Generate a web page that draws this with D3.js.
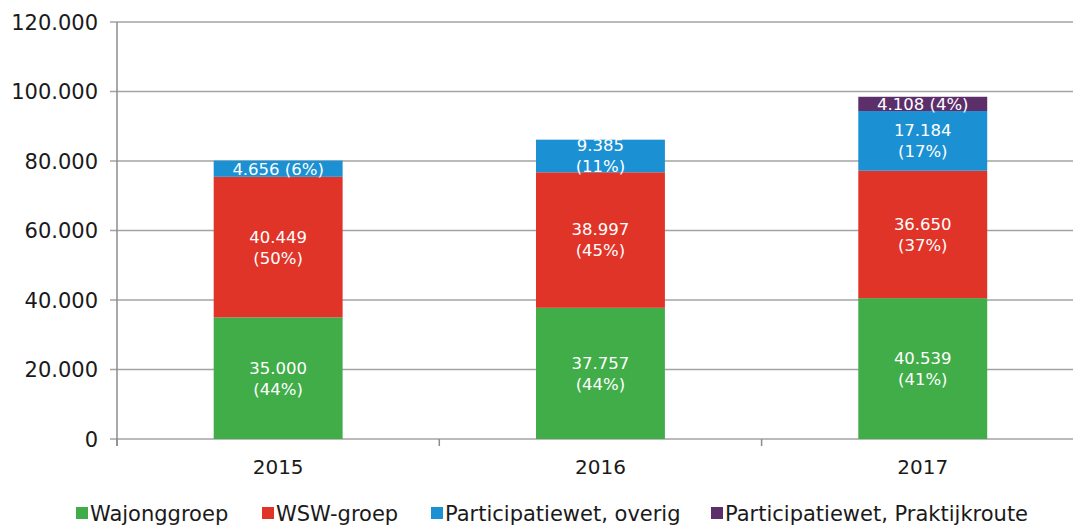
<!DOCTYPE html>
<html>
<head>
<meta charset="utf-8">
<script src="https://cdn.jsdelivr.net/npm/d3@7"></script>
<style>
  body { margin: 0; background: #fff; }
  text { font-family: "DejaVu Sans", Verdana, sans-serif; }
</style>
</head>
<body>
<div id="chart"></div>
<script>
var svgWidth = 1073;
var svgHeight = 528;

// Data
var years = ["2015", "2016", "2017"];
var seriesNames = ["Wajonggroep", "WSW-groep", "Participatiewet, overig", "Participatiewet, Praktijkroute"];
var wajong = [35000, 37757, 40539];
var wsw = [40449, 38997, 36650];
var pwOverig = [4656, 9385, 17184];
var pwPraktijk = [0, 0, 4108];
var yTicks = [0, 20000, 40000, 60000, 80000, 100000, 120000];

var colors = ["#41ad49", "#e13428", "#1b91d3", "#5c2f6b"];

var margin = { top: 22, left: 117, bottom: 89 };
var plotBottom = svgHeight - margin.bottom;

var svg = d3.select("#chart")
  .append("svg")
  .attr("width", svgWidth)
  .attr("height", svgHeight);

// Build rows for stacking
var rows = years.map(function(y, i) {
  return { year: y, s0: wajong[i], s1: wsw[i], s2: pwOverig[i], s3: pwPraktijk[i] };
});
var keys = ["s0", "s1", "s2", "s3"];
var stacked = d3.stack().keys(keys)(rows);

// Scales
var xScale = d3.scaleBand()
  .domain(years)
  .range([margin.left, margin.left + 3 * 322.3])
  .paddingInner(0.6)
  .paddingOuter(0.3);

var yScale = d3.scaleLinear()
  .domain([0, 120000])
  .range([plotBottom, margin.top]);

var fmt = function(v) {
  return d3.format(",")(v).replace(/,/g, ".");
};

// Gridlines
svg.append("g")
  .selectAll("line")
  .data(yTicks)
  .enter()
  .append("line")
  .attr("x1", margin.left - 7)
  .attr("x2", svgWidth)
  .attr("y1", function(d) { return yScale(d); })
  .attr("y2", function(d) { return yScale(d); })
  .attr("stroke", "#a3a3a3")
  .attr("stroke-width", 1.5);

// Y tick labels
svg.append("g")
  .selectAll("text")
  .data(yTicks)
  .enter()
  .append("text")
  .attr("x", margin.left - 19)
  .attr("y", function(d) { return yScale(d); })
  .attr("dy", "0.36em")
  .attr("text-anchor", "end")
  .attr("font-size", "21px")
  .attr("fill", "#1a1a1a")
  .text(function(d) { return fmt(d); });

// Bars
var layers = svg.append("g")
  .selectAll("g")
  .data(stacked)
  .enter()
  .append("g")
  .attr("fill", function(d, i) { return colors[i]; });

layers.selectAll("rect")
  .data(function(d) { return d; })
  .enter()
  .append("rect")
  .attr("x", function(d) { return xScale(d.data.year); })
  .attr("width", xScale.bandwidth())
  .attr("y", function(d) { return yScale(d[1]); })
  .attr("height", function(d) { return yScale(d[0]) - yScale(d[1]); });

// Bar labels
stacked.forEach(function(layer) {
  layer.forEach(function(d) {
    var v = d[1] - d[0];
    if (v <= 0) return;
    var total = d.data.s0 + d.data.s1 + d.data.s2 + d.data.s3;
    var pct = "(" + Math.round(v / total * 100) + "%)";
    var cx = xScale(d.data.year) + xScale.bandwidth() / 2;
    var cy = (yScale(d[0]) + yScale(d[1])) / 2;
    var h = yScale(d[0]) - yScale(d[1]);
    var t = svg.append("text")
      .attr("x", cx)
      .attr("text-anchor", "middle")
      .attr("font-size", "16.5px")
      .attr("fill", "#ffffff");
    if (h < 25) {
      t.attr("y", cy).attr("dy", "0.36em").text(fmt(v) + " " + pct);
    } else {
      t.append("tspan").attr("x", cx).attr("y", cy - 10.5).attr("dy", "0.36em").text(fmt(v));
      t.append("tspan").attr("x", cx).attr("y", cy + 10.5).attr("dy", "0.36em").text(pct);
    }
  });
});

// Axes lines
svg.append("line")
  .attr("x1", margin.left).attr("x2", margin.left)
  .attr("y1", margin.top).attr("y2", plotBottom + 7)
  .attr("stroke", "#8c8c8c").attr("stroke-width", 1.5);

var xTickPos = [0, 1, 2, 3].map(function(i) { return margin.left + i * xScale.step(); });
svg.append("g")
  .selectAll("line")
  .data(xTickPos)
  .enter()
  .append("line")
  .attr("x1", function(d) { return d; })
  .attr("x2", function(d) { return d; })
  .attr("y1", plotBottom)
  .attr("y2", plotBottom + 7)
  .attr("stroke", "#8c8c8c").attr("stroke-width", 1.5);

// X labels
svg.append("g")
  .selectAll("text")
  .data(years)
  .enter()
  .append("text")
  .attr("x", function(d) { return xScale(d) + xScale.bandwidth() / 2; })
  .attr("y", 474)
  .attr("text-anchor", "middle")
  .attr("font-size", "20px")
  .attr("fill", "#1a1a1a")
  .text(function(d) { return d; });

// Legend
var legendX = [76, 262, 431, 711];
var legend = svg.append("g")
  .selectAll("g")
  .data(seriesNames)
  .enter()
  .append("g")
  .attr("transform", function(d, i) { return "translate(" + legendX[i] + ",513)"; });

legend.append("rect")
  .attr("x", 0).attr("y", -6)
  .attr("width", 12).attr("height", 12)
  .attr("fill", function(d, i) { return colors[i]; });

legend.append("text")
  .attr("x", 14)
  .attr("y", 0)
  .attr("dy", "0.36em")
  .attr("font-size", "21px")
  .attr("fill", "#1a1a1a")
  .text(function(d) { return d; });
</script>
</body>
</html>
